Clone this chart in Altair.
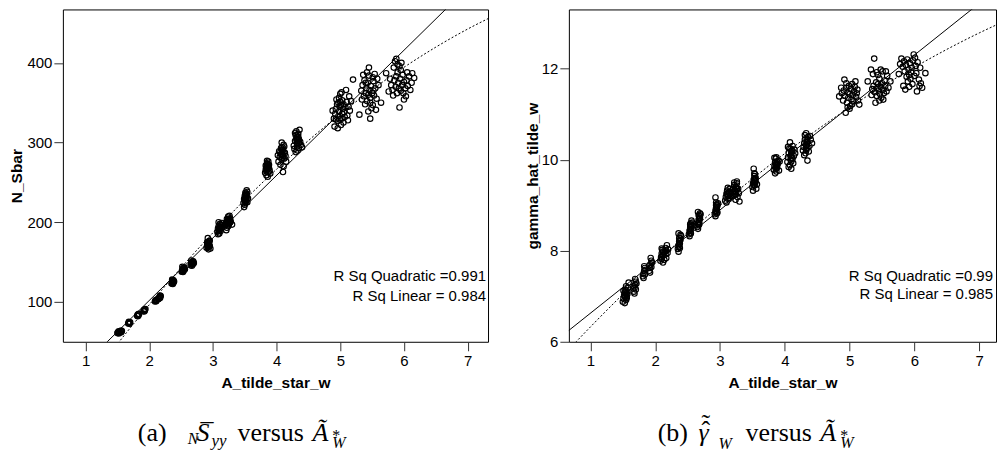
import altair as alt
import pandas as pd

# ---------------- data ----------------
X_TICKS = [1, 2, 3, 4, 5, 6, 7]
LEFT_Y_TICKS = [100, 200, 300, 400]
RIGHT_Y_TICKS = [6, 8, 10, 12]

LEFT_X_DOMAIN = [0.644, 7.32]
LEFT_Y_DOMAIN = [50, 467]
RIGHT_X_DOMAIN = [0.667, 7.26]
RIGHT_Y_DOMAIN = [6, 13.30]

# panel (a): A_tilde_star_w vs N_Sbar
LEFT_POINTS = [
    (1.50, 61), (1.51, 62), (1.52, 60.5), (1.53, 62.5), (1.55, 63), (1.56, 64), (1.57, 63.5), (1.54, 61.5), (1.52, 63), (1.56, 62),
    (1.67, 73), (1.68, 74), (1.69, 72.5), (1.70, 74.5), (1.68, 75), (1.69, 73.5),
    (1.81, 82.5), (1.82, 84), (1.83, 83), (1.84, 85), (1.82, 82), (1.83, 84.5),
    (1.91, 88.5), (1.92, 90), (1.93, 89), (1.94, 91), (1.92, 88), (1.93, 90.5),
    (2.09, 100.5), (2.10, 102), (2.11, 101), (2.12, 103), (2.15, 104), (2.16, 106), (2.17, 105), (2.18, 107.5), (2.17, 108), (2.14, 103.5),
    (2.35, 123), (2.36, 125), (2.37, 127), (2.38, 124), (2.36, 128), (2.37, 122.5), (2.38, 126), (2.39, 125.5), (2.36, 126.5),
    (2.51, 138), (2.52, 140), (2.53, 142), (2.54, 139), (2.55, 143), (2.53, 137.5), (2.56, 141), (2.52, 144), (2.54, 141.5),
    (2.65, 146), (2.66, 148), (2.67, 150), (2.68, 147), (2.69, 151), (2.67, 145.5), (2.70, 149), (2.66, 152), (2.68, 149.5),
    (2.90, 168), (2.91, 171), (2.92, 174), (2.93, 169), (2.94, 176), (2.92, 172), (2.95, 170), (2.93, 166), (2.91, 175), (2.94, 173), (2.96, 167), (2.92, 180), (2.95, 177),
    (3.07, 188), (3.08, 192), (3.09, 195), (3.10, 190), (3.11, 198), (3.12, 193), (3.13, 196), (3.10, 186), (3.14, 199), (3.12, 189), (3.09, 200), (3.15, 194), (3.08, 185),
    (3.19, 196), (3.21, 200), (3.22, 204), (3.23, 198), (3.24, 207), (3.25, 202), (3.26, 199), (3.27, 205), (3.22, 193), (3.28, 201), (3.24, 195), (3.30, 197), (3.26, 208), (3.21, 190),
    (3.48, 224), (3.49, 229), (3.50, 233), (3.51, 227), (3.52, 236), (3.53, 231), (3.54, 238), (3.50, 222), (3.52, 226), (3.53, 240), (3.51, 234), (3.49, 219), (3.55, 230), (3.54, 225),
    (3.82, 262), (3.83, 266), (3.84, 270), (3.85, 274), (3.86, 268), (3.87, 263), (3.88, 272), (3.85, 277), (3.84, 259), (3.87, 276), (3.89, 265), (3.83, 271), (3.86, 257), (3.88, 268), (3.90, 261),
    (4.03, 276), (4.05, 282), (4.06, 288), (4.07, 293), (4.08, 279), (4.09, 285), (4.10, 291), (4.11, 297), (4.12, 280), (4.13, 287), (4.08, 300), (4.06, 272), (4.14, 283), (4.10, 263), (4.04, 289), (4.12, 295), (4.15, 276), (4.02, 284), (4.09, 294), (4.11, 270),
    (4.27, 296), (4.29, 302), (4.30, 309), (4.31, 314), (4.32, 299), (4.33, 305), (4.34, 311), (4.35, 293), (4.36, 316), (4.33, 290), (4.30, 288), (4.37, 301), (4.38, 297), (4.32, 307), (4.29, 312), (4.40, 294), (4.35, 304), (4.28, 292),
    (4.90, 330), (4.92, 336), (4.93, 342), (4.95, 348), (4.96, 327), (4.97, 333), (4.98, 339), (4.99, 345), (5.00, 351), (5.01, 322), (5.02, 330), (5.03, 336), (5.04, 342), (4.98, 356), (5.00, 361), (5.02, 363), (5.05, 348), (5.06, 338), (5.07, 332), (5.08, 344), (5.10, 351), (4.88, 340), (4.91, 320), (4.94, 354), (5.12, 328), (5.14, 358), (5.15, 340), (5.11, 334), (4.96, 318), (5.05, 325), (4.99, 329), (5.01, 347), (4.93, 329), (5.09, 366), (5.03, 353), (4.97, 350), (5.13, 345), (5.17, 352),
    (5.20, 379), (5.30, 335), (5.47, 330), (5.64, 350), (5.45, 394), (5.33, 365), (5.35, 372), (5.37, 358), (5.38, 378), (5.40, 362), (5.41, 368), (5.42, 352), (5.43, 375), (5.44, 360), (5.45, 384), (5.46, 366), (5.47, 356), (5.48, 371), (5.50, 362), (5.51, 347), (5.52, 377), (5.53, 359), (5.55, 368), (5.56, 341), (5.58, 380), (5.39, 348), (5.36, 385), (5.42, 388), (5.49, 343), (5.54, 386), (5.57, 355), (5.34, 354), (5.60, 372), (5.44, 339), (5.51, 382), (5.40, 375), (5.47, 350), (5.52, 365),
    (5.86, 402), (5.88, 405), (5.90, 398), (5.93, 396), (5.96, 400), (5.84, 394), (5.93, 344), (5.72, 387), (6.16, 381), (6.00, 354), (5.80, 372), (5.82, 366), (5.85, 378), (5.87, 370), (5.89, 362), (5.91, 375), (5.92, 368), (5.94, 380), (5.95, 365), (5.97, 372), (5.98, 385), (6.00, 376), (6.02, 368), (6.04, 378), (6.06, 371), (6.08, 383), (6.10, 366), (6.12, 375), (5.83, 359), (5.90, 388), (5.99, 362), (6.05, 388), (5.78, 380), (5.95, 391), (6.03, 358), (5.88, 383), (6.13, 387), (5.76, 364),
    # dense cluster cores
    (2.10, 101.5), (2.11, 102.5), (2.16, 105), (2.17, 106.5),
    (2.37, 124.5), (2.36, 123.5), (2.38, 127), (2.37, 126),
    (2.53, 140), (2.54, 142.5), (2.52, 139), (2.55, 141),
    (2.67, 147.5), (2.68, 150.5), (2.66, 149), (2.69, 148),
    (2.92, 170), (2.93, 172), (2.94, 170.5), (2.93, 174.5), (2.92, 168.5),
    (3.10, 193), (3.11, 191), (3.12, 196.5), (3.09, 189), (3.11, 194.5),
    (3.23, 201), (3.24, 203), (3.25, 197), (3.22, 199), (3.26, 204), (3.27, 200),
    (3.51, 230), (3.52, 232), (3.50, 227), (3.53, 235), (3.52, 229), (3.51, 237),
    (3.85, 266), (3.86, 270), (3.84, 264), (3.87, 271), (3.85, 269), (3.86, 273), (3.84, 267),
    (4.08, 286), (4.09, 289), (4.10, 283), (4.07, 285), (4.11, 288), (4.09, 281), (4.08, 291),
    (4.32, 302), (4.33, 298), (4.34, 307), (4.31, 304), (4.35, 300), (4.33, 310), (4.32, 295),
]

# panel (b): A_tilde_star_w vs gamma_hat_tilde_w
RIGHT_POINTS = [
    (1.50, 6.88), (1.51, 6.95), (1.52, 7.02), (1.53, 7.08), (1.54, 7.14), (1.55, 6.92), (1.56, 7.00), (1.57, 7.10), (1.58, 7.18), (1.53, 6.85), (1.55, 7.22), (1.57, 7.05), (1.59, 7.30), (1.51, 7.12), (1.54, 6.98),
    (1.67, 7.10), (1.68, 7.18), (1.69, 7.25), (1.70, 7.32), (1.68, 7.06), (1.69, 7.38), (1.70, 7.15), (1.71, 7.28), (1.67, 7.22),
    (1.81, 7.44), (1.82, 7.50), (1.83, 7.56), (1.84, 7.62), (1.82, 7.40), (1.83, 7.66), (1.84, 7.48), (1.85, 7.58),
    (1.91, 7.56), (1.92, 7.62), (1.93, 7.70), (1.94, 7.78), (1.92, 7.52), (1.93, 7.84), (1.94, 7.64), (1.95, 7.74), (1.91, 7.68),
    (2.08, 7.78), (2.09, 7.86), (2.10, 7.94), (2.11, 8.02), (2.12, 7.74), (2.13, 7.90), (2.15, 7.98), (2.16, 8.06), (2.17, 7.84), (2.18, 8.12), (2.19, 7.95), (2.10, 8.05), (2.14, 7.80), (2.20, 8.03),
    (2.35, 8.04), (2.36, 8.12), (2.37, 8.20), (2.38, 8.28), (2.39, 8.35), (2.36, 7.98), (2.37, 8.08), (2.38, 8.16), (2.39, 8.24), (2.40, 8.32), (2.36, 8.38),
    (2.52, 8.36), (2.53, 8.44), (2.54, 8.52), (2.55, 8.60), (2.56, 8.66), (2.53, 8.32), (2.54, 8.40), (2.55, 8.48), (2.56, 8.56), (2.57, 8.62),
    (2.65, 8.52), (2.66, 8.60), (2.67, 8.68), (2.68, 8.76), (2.69, 8.82), (2.66, 8.48), (2.67, 8.56), (2.68, 8.64), (2.69, 8.72), (2.70, 8.80), (2.66, 8.85),
    (2.92, 8.80), (2.93, 8.88), (2.94, 8.95), (2.95, 9.02), (2.96, 8.84), (2.93, 8.76), (2.94, 9.06), (2.95, 8.92), (2.96, 8.99), (2.97, 9.04), (2.93, 9.17),
    (3.08, 9.10), (3.09, 9.18), (3.10, 9.25), (3.11, 9.32), (3.12, 9.14), (3.13, 9.22), (3.14, 9.29), (3.15, 9.36), (3.16, 9.20), (3.10, 9.06), (3.17, 9.28), (3.12, 9.38),
    (3.19, 9.20), (3.20, 9.28), (3.21, 9.36), (3.22, 9.44), (3.23, 9.24), (3.24, 9.32), (3.25, 9.40), (3.26, 9.48), (3.27, 9.18), (3.28, 9.36), (3.29, 9.26), (3.30, 9.08), (3.22, 9.50), (3.26, 9.52), (3.24, 9.12),
    (3.50, 9.40), (3.51, 9.48), (3.52, 9.56), (3.53, 9.64), (3.54, 9.44), (3.55, 9.52), (3.56, 9.36), (3.51, 9.32), (3.53, 9.70), (3.52, 9.80), (3.55, 9.60), (3.57, 9.46), (3.54, 9.68),
    (3.83, 9.78), (3.84, 9.86), (3.85, 9.94), (3.86, 10.02), (3.87, 9.74), (3.88, 9.82), (3.89, 9.90), (3.90, 9.98), (3.85, 9.70), (3.87, 10.05), (3.91, 9.76), (3.86, 9.88), (3.92, 9.96), (3.84, 10.04),
    (4.04, 9.95), (4.05, 10.05), (4.06, 10.15), (4.07, 10.25), (4.08, 9.88), (4.09, 10.00), (4.10, 10.10), (4.11, 10.20), (4.12, 10.30), (4.13, 9.92), (4.08, 10.38), (4.10, 9.80), (4.14, 10.08), (4.15, 10.22), (4.06, 9.84), (4.12, 10.02), (4.16, 10.14), (4.05, 10.28),
    (4.28, 10.20), (4.29, 10.28), (4.30, 10.36), (4.31, 10.44), (4.32, 10.14), (4.33, 10.24), (4.34, 10.32), (4.35, 10.40), (4.36, 10.50), (4.37, 10.18), (4.33, 10.58), (4.35, 9.98), (4.38, 10.30), (4.40, 10.44), (4.42, 10.36), (4.30, 10.10), (4.39, 10.52), (4.31, 10.54),
    (4.84, 11.39), (4.92, 11.76), (4.94, 11.03), (5.15, 11.21), (5.09, 11.72), (4.88, 11.46), (4.90, 11.30), (4.91, 11.52), (4.93, 11.40), (4.95, 11.58), (4.96, 11.25), (4.97, 11.48), (4.98, 11.36), (4.99, 11.62), (5.00, 11.44), (5.01, 11.18), (5.02, 11.55), (5.03, 11.32), (5.04, 11.66), (5.05, 11.42), (5.06, 11.28), (5.07, 11.50), (5.08, 11.60), (5.10, 11.38), (5.11, 11.46), (5.12, 11.54), (4.95, 11.68), (5.00, 11.12), (5.04, 11.22), (4.87, 11.58), (5.13, 11.30), (4.97, 11.15),
    (5.38, 12.22), (5.33, 11.98), (5.40, 11.25), (5.63, 11.72), (5.28, 11.72), (5.51, 11.94), (5.35, 11.55), (5.37, 11.62), (5.39, 11.48), (5.41, 11.70), (5.42, 11.40), (5.43, 11.58), (5.44, 11.66), (5.45, 11.52), (5.46, 11.78), (5.47, 11.44), (5.48, 11.60), (5.49, 11.36), (5.50, 11.68), (5.52, 11.54), (5.53, 11.46), (5.54, 11.74), (5.55, 11.62), (5.57, 11.50), (5.58, 11.84), (5.60, 11.58), (5.36, 11.88), (5.42, 11.92), (5.46, 11.30), (5.52, 11.32), (5.56, 11.94), (5.34, 11.42), (5.44, 11.86), (5.48, 11.98),
    (6.12, 11.58), (6.17, 11.90), (6.04, 11.50), (5.86, 11.54), (5.99, 12.31), (5.78, 12.10), (5.80, 12.22), (5.82, 12.04), (5.84, 12.16), (5.85, 11.94), (5.87, 12.08), (5.88, 11.82), (5.89, 12.20), (5.90, 11.72), (5.91, 11.98), (5.92, 11.86), (5.93, 12.12), (5.94, 11.78), (5.95, 11.92), (5.96, 12.02), (5.97, 11.66), (5.98, 12.18), (6.00, 11.84), (6.02, 12.06), (6.03, 11.90), (6.05, 12.14), (6.07, 11.76), (6.09, 12.02), (6.10, 11.68), (5.83, 11.62), (5.92, 11.60), (6.01, 12.24), (5.76, 11.88), (6.08, 11.62),
    # dense cluster cores
    (1.53, 7.00), (1.55, 7.06), (1.54, 7.10), (1.56, 6.96),
    (2.11, 7.90), (2.12, 7.98), (2.16, 7.92), (2.17, 8.00), (2.10, 7.82),
    (2.37, 8.14), (2.38, 8.22), (2.37, 8.28), (2.38, 8.06),
    (2.54, 8.46), (2.55, 8.54), (2.54, 8.58), (2.55, 8.38),
    (2.67, 8.62), (2.68, 8.70), (2.67, 8.78), (2.68, 8.58),
    (2.94, 8.86), (2.95, 8.96), (2.94, 9.00), (2.95, 8.82),
    (3.12, 9.20), (3.13, 9.28), (3.11, 9.24), (3.14, 9.16),
    (3.23, 9.32), (3.24, 9.40), (3.25, 9.28), (3.24, 9.24), (3.26, 9.36),
    (3.53, 9.50), (3.54, 9.58), (3.52, 9.44), (3.53, 9.56), (3.54, 9.50),
    (3.86, 9.84), (3.87, 9.92), (3.88, 9.96), (3.86, 9.80), (3.88, 9.88),
    (4.09, 10.08), (4.10, 10.16), (4.11, 10.04), (4.09, 10.24), (4.10, 9.96),
    (4.33, 10.30), (4.34, 10.38), (4.35, 10.26), (4.34, 10.46), (4.33, 10.20),
]

# fit lines
LEFT_LINEAR_X = [0.5, 7.5]
LEFT_LINEAR_Y = [-15.95, 533.55]
LEFT_QUAD_X = [0.6, 1.0, 1.5, 2.0, 2.5, 3.0, 3.5, 4.0, 4.5, 5.0, 5.5, 6.0, 6.5, 7.0, 7.4]
LEFT_QUAD_Y = [-48.0, -4.6, 47.2, 96.4, 142.9, 186.8, 228.0, 266.6, 302.5, 335.8, 366.4, 394.4, 419.7, 442.4, 458.6]

RIGHT_LINEAR_X = [0.5, 7.5]
RIGHT_LINEAR_Y = [6.061, 13.999]
RIGHT_QUAD_X = [0.6, 1.0, 1.5, 2.0, 2.5, 3.0, 3.5, 4.0, 4.5, 5.0, 5.5, 6.0, 6.5, 7.0, 7.4]
RIGHT_QUAD_Y = [5.731, 6.327, 7.042, 7.725, 8.376, 8.995, 9.581, 10.135, 10.657, 11.147, 11.604, 12.029, 12.422, 12.783, 13.048]

X_TITLE = "A_tilde_star_w"
LEFT_Y_TITLE = "N_Sbar"
RIGHT_Y_TITLE = "gamma_hat_tilde_w"
LEFT_R2 = ["R Sq Quadratic =0.991", "R Sq Linear = 0.984"]
RIGHT_R2 = ["R Sq Quadratic =0.99", "R Sq Linear = 0.985"]

CAPTION_A = ["(a)", "N", "S", "\u00af", "yy", "versus", "\u00c3", "*", "W"]
CAPTION_B = ["(b)", "\u03b3", "\u02c6", "\u02dc", "W", "versus", "\u00c3", "*", "W"]

# ---------------- layout (pixel offsets relative to each plot area) ----------------
H = 333
LEFT_W = 426
RIGHT_W = 428
# (x, y baseline, size, style) for each caption piece
CAP_A_POS = [(75, 432, 26, "normal"), (125, 435, 16, "italic"), (134, 432, 26, "italic"),
             (138, 432, 26, "normal"), (149, 437, 17, "italic"), (175, 432, 26, "normal"),
             (250, 432, 26, "italic"), (270, 432, 16, "normal"), (270, 439, 16, "italic")]
CAP_B_POS = [(89, 432, 26, "normal"), (130, 432, 26, "italic"), (133, 430, 26, "normal"),
             (133, 423, 26, "normal"), (150, 440, 16, "italic"), (177, 432, 26, "normal"),
             (252, 432, 26, "italic"), (272, 432, 16, "normal"), (272, 439, 16, "italic")]

DUMMY = pd.DataFrame({"k": [0]})


def panel(points, lin_x, lin_y, quad_x, quad_y, xdom, ydom, yticks, ytitle, ytitle_x,
          r2, r2_y, r2_x, cap_text, cap_pos, width):
    df = pd.DataFrame(points, columns=["x", "y"])
    xs = alt.Scale(domain=xdom, nice=False, zero=False)
    ys = alt.Scale(domain=ydom, nice=False, zero=False)
    xenc = alt.X("x:Q", scale=xs,
                 axis=alt.Axis(values=X_TICKS, format="d", title=X_TITLE, titlePadding=7,
                               labelFlush=False))
    yenc = alt.Y("y:Q", scale=ys,
                 axis=alt.Axis(values=yticks, format="d", title=ytitle, titleX=ytitle_x,
                               titleY=H / 2, titleAngle=270, titleBaseline="middle",
                               titleAlign="center", labelFlush=False))
    pts = alt.Chart(df).mark_point(shape="circle", filled=False, size=30, color="black",
                                   strokeWidth=1.15, opacity=1, clip=True).encode(x=xenc, y=yenc)
    lin = alt.Chart(pd.DataFrame({"x": lin_x, "y": lin_y})).mark_line(
        color="black", strokeWidth=1, clip=True).encode(x="x:Q", y="y:Q")
    quad = alt.Chart(pd.DataFrame({"x": quad_x, "y": quad_y})).mark_line(
        color="black", strokeWidth=1, strokeDash=[2, 2], interpolate="monotone",
        clip=True).encode(x="x:Q", y="y:Q")
    layers = [pts, lin, quad]
    for t, yy in zip(r2, r2_y):
        layers.append(alt.Chart(DUMMY).mark_text(
            text=t, align="right", baseline="alphabetic", font="Liberation Sans",
            fontSize=15, color="black").encode(x=alt.value(r2_x), y=alt.value(yy)))
    for t, (px, py, fs, st) in zip(cap_text, cap_pos):
        layers.append(alt.Chart(DUMMY).mark_text(
            text=t, align="left", baseline="alphabetic", font="Liberation Serif",
            fontSize=fs, fontStyle=st, color="black").encode(x=alt.value(px), y=alt.value(py)))
    return alt.layer(*layers).properties(width=width, height=H)


left = panel(LEFT_POINTS, LEFT_LINEAR_X, LEFT_LINEAR_Y, LEFT_QUAD_X, LEFT_QUAD_Y,
             LEFT_X_DOMAIN, LEFT_Y_DOMAIN, LEFT_Y_TICKS, LEFT_Y_TITLE, -46,
             LEFT_R2, [272.5, 292.5], LEFT_W - 2, CAPTION_A, CAP_A_POS, LEFT_W)
right = panel(RIGHT_POINTS, RIGHT_LINEAR_X, RIGHT_LINEAR_Y, RIGHT_QUAD_X, RIGHT_QUAD_Y,
              RIGHT_X_DOMAIN, RIGHT_Y_DOMAIN, RIGHT_Y_TICKS, RIGHT_Y_TITLE, -36,
              RIGHT_R2, [272, 290], RIGHT_W - 3, CAPTION_B, CAP_B_POS, RIGHT_W)

chart = alt.hconcat(left, right, spacing=36).properties(
    padding={"left": 1, "top": 0, "right": 0, "bottom": 0}
).configure_view(
    stroke="black", strokeWidth=1
).configure_axis(
    grid=False, domain=False, tickSize=9, tickColor="#333", tickWidth=1,
    labelFont="Liberation Sans", labelFontSize=15, labelColor="black", labelPadding=2,
    titleFont="Liberation Sans", titleFontSize=15.5, titleFontWeight="bold", titleColor="black"
).configure_axisX(
    labelPadding=3
)

chart.save("out.html", embed_options={"renderer": "svg", "actions": False})
